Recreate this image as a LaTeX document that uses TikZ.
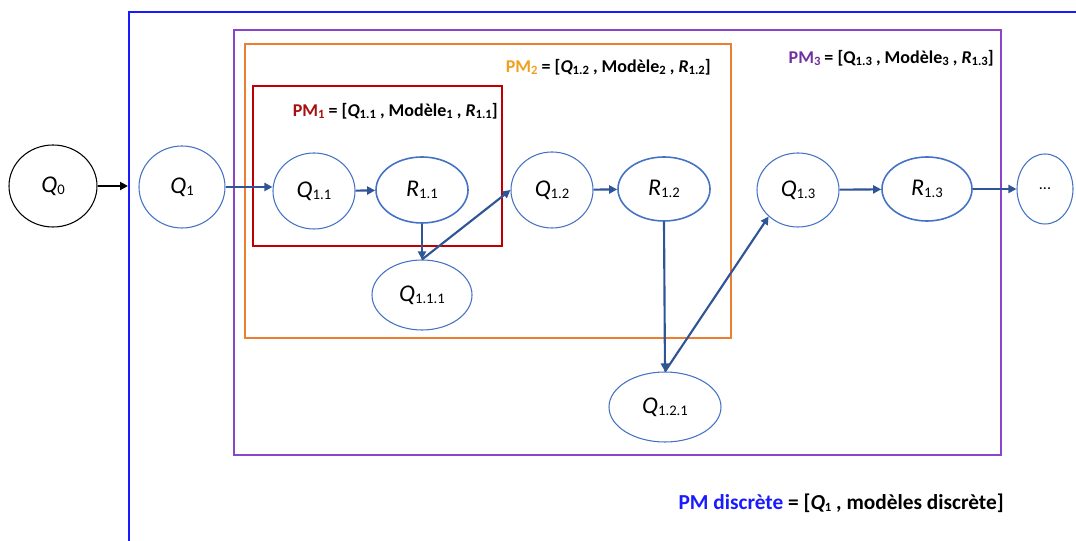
\documentclass[tikz,border=0pt]{standalone}
\usepackage{fontspec}
\setmainfont{Carlito}
\usetikzlibrary{shapes.geometric,arrows.meta}
\definecolor{frameblue}{HTML}{1A1AFF}
\definecolor{pmpurple}{HTML}{8A45C8}
\definecolor{pmpurpletxt}{HTML}{7030A0}
\definecolor{pmorange}{HTML}{ED7D31}
\definecolor{pmorangetxt}{HTML}{F0A020}
\definecolor{pmred}{HTML}{C00000}
\definecolor{pmredtxt}{HTML}{A50F0F}
\definecolor{nodeblue}{HTML}{4472C4}
\definecolor{arrowblue}{HTML}{2F5597}
\newcommand{\nsub}[1]{{\fontsize{11}{11}\selectfont\raisebox{-0.3ex}{#1}}}
\newcommand{\lsub}[1]{{\fontsize{9.5}{9.5}\selectfont\raisebox{-0.4ex}{#1}}}
\tikzset{
  st/.style={ellipse,draw=nodeblue,line width=0.8pt,inner sep=0pt,
    font=\fontsize{18}{18}\selectfont},
  sz/.style 2 args={minimum width=#1*0.75pt,minimum height=#2*0.75pt},
  conn/.style={draw=arrowblue,line width=1.6pt,-{Triangle[length=6pt,width=6pt]}},
  lbl/.style={font=\bfseries\fontsize{13.5}{13.5}\selectfont,inner sep=0pt},
}
\begin{document}
\begin{tikzpicture}[x=0.75pt,y=-0.75pt]
\useasboundingbox (0,0) rectangle (1076,541);
\clip (0,0) rectangle (1076,541);
% frames
\draw[frameblue,line width=2pt] (129,560) -- (129,12) -- (1100,12);
\draw[pmpurple,line width=1.6pt] (234,30) rectangle (1001,455);
\draw[pmorange,line width=2pt] (245,44) rectangle (731,338);
\draw[pmred,line width=1.8pt] (253,86) rectangle (502,246);
% labels
\node[lbl,anchor=east] (l1) at (498,111) {\textcolor{pmredtxt}{PM\lsub{1}} = [\textit{Q}\lsub{1.1} , Modèle\lsub{1} , \textit{R}\lsub{1.1}]};
\node[lbl,anchor=east] (l2) at (711,67) {\textcolor{pmorangetxt}{PM\lsub{2}} = [\textit{Q}\lsub{1.2} , Modèle\lsub{2} , \textit{R}\lsub{1.2}]};
\node[lbl,anchor=east] (l3) at (994,58) {\textcolor{pmpurpletxt}{PM\lsub{3}} = [Q\lsub{1.3} , Modèle\lsub{3} , \textit{R}\lsub{1.3}]};
\node[lbl,anchor=east,font=\bfseries\fontsize{16}{16}\selectfont] (l4) at (1004,503) {\textcolor{frameblue}{PM discrète} = [\textit{Q}\lsub{1} , modèles discrète]};
% nodes
\node[st,draw=black,sz={88}{82}] (q0) at (53,186) {\textit{Q}\nsub{0}};
\node[st,sz={86}{82}] (q1) at (182,187) {\textit{Q}\nsub{1}};
\node[st,sz={82}{76}] (q11) at (314,191) {\textit{Q}\nsub{1.1}};
\node[st,line width=1.2pt,sz={92}{66}] (r11) at (422,190) {\textit{R}\nsub{1.1}};
\node[st,sz={82}{76}] (q12) at (552,190) {\textit{Q}\nsub{1.2}};
\node[st,line width=1.2pt,sz={92}{64}] (r12) at (664,189) {\textit{R}\nsub{1.2}};
\node[st,sz={100}{70}] (q111) at (422,295) {\textit{Q}\nsub{1.1.1}};
\node[st,sz={112}{70}] (q121) at (665,407) {\textit{Q}\nsub{1.2.1}};
\node[st,sz={82}{74}] (q13) at (798,190) {\textit{Q}\nsub{1.3}};
\node[st,line width=1.2pt,sz={90}{64}] (r13) at (927,189) {\textit{R}\nsub{1.3}};
\node[st,sz={56}{70},font=\fontsize{12}{12}\selectfont] (dots) at (1045,189) {...};
\coordinate (fr) at (128,186);
% connectors
\draw[black,line width=1.6pt,-{Triangle[length=6pt,width=6pt]}] (q0.east) -- (fr);
\draw[conn] (q1.east) -- (q1.east -| q11.west);
\draw[conn] (q11) -- (r11);
\draw[conn] (r11.south) -- (q111.north);
\draw[conn] (q111.north) -- (q12.west);
\draw[conn] (q12) -- (r12);
\draw[conn] (r12.south) -- (q121.north);
\draw[conn] (q121.north) -- (q13.south west);
\draw[conn] (q13) -- (r13);
\draw[conn] (r13) -- (dots);
\end{tikzpicture}
\end{document}
